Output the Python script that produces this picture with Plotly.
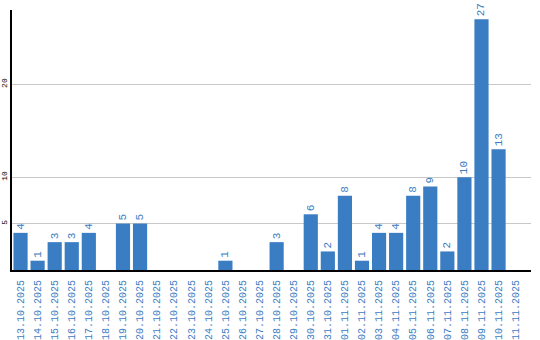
import plotly.graph_objects as go

dates = ["13.10.2025","14.10.2025","15.10.2025","16.10.2025","17.10.2025","18.10.2025",
         "19.10.2025","20.10.2025","21.10.2025","22.10.2025","23.10.2025","24.10.2025",
         "25.10.2025","26.10.2025","27.10.2025","28.10.2025","29.10.2025","30.10.2025",
         "31.10.2025","01.11.2025","02.11.2025","03.11.2025","04.11.2025","05.11.2025",
         "06.11.2025","07.11.2025","08.11.2025","09.11.2025","10.11.2025","11.11.2025"]
counts = [4,1,3,3,4,0,5,5,0,0,0,0,1,0,0,3,0,6,2,8,1,4,4,8,9,2,10,27,13,0]
labels = [str(v) if v > 0 else "" for v in counts]
y_ticks = [5, 10, 20]

blue = "#3b7dc3"
mono = "Liberation Mono"
fig = go.Figure(go.Bar(
    x=dates, y=counts, text=labels, textposition="outside", textangle=-90,
    cliponaxis=False,
    textfont=dict(family=mono, size=11, color=blue),
    marker=dict(color=blue, line=dict(width=0)),
))
fig.update_layout(
    width=540, height=340, margin=dict(l=12, r=9, t=10, b=70),
    paper_bgcolor="white", plot_bgcolor="white", bargap=0.17, showlegend=False,
    xaxis=dict(type="category", range=[-0.5, 29.9], tickangle=-90, showgrid=False,
               tickfont=dict(family=mono, size=10, color=blue),
               showline=True, linecolor="black", linewidth=2, ticks="", ticklabelstandoff=4,
               automargin=False),
    yaxis=dict(range=[0, 28], tickvals=y_ticks, tickangle=-90, showgrid=True,
               gridcolor="#c8c8c8", gridwidth=1, zeroline=False,
               tickfont=dict(family=mono, size=8, color="black"),
               showline=True, linecolor="black", linewidth=2, ticks="", automargin=False,
               ticklabelstandoff=0),
)
fig.write_html("out.html")
